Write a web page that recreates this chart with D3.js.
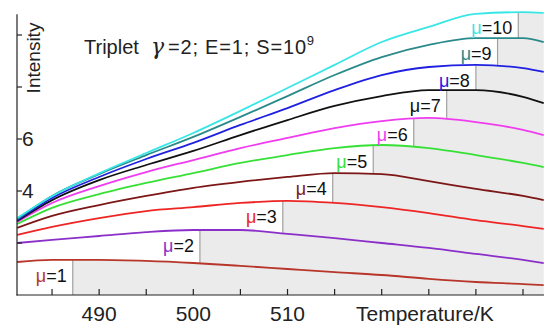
<!DOCTYPE html>
<html><head><meta charset="utf-8">
<script src="https://cdn.jsdelivr.net/npm/d3@7/dist/d3.min.js"></script>
<style>
html,body{margin:0;padding:0;background:#fff;}
svg{display:block;font-family:"Liberation Sans",Arial,sans-serif;}
</style></head>
<body><svg id="chart" width="544" height="326"></svg>
<script>
// ---- data ----
const temps = [481.3, 485, 490, 495, 500, 505, 510, 515, 520, 525, 530, 535, 537.2];
const mu1  = [1.27, 1.35, 1.35, 1.31, 1.23, 1.12, 1.00, 0.88, 0.77, 0.62, 0.50, 0.42, 0.38];
const mu2  = [2.00, 2.12, 2.27, 2.42, 2.50, 2.50, 2.35, 2.19, 2.00, 1.81, 1.58, 1.35, 1.23];
const mu3  = [2.31, 2.62, 2.96, 3.23, 3.38, 3.54, 3.62, 3.54, 3.38, 3.15, 2.88, 2.65, 2.54];
const mu4  = [2.58, 3.04, 3.46, 3.81, 4.12, 4.35, 4.54, 4.69, 4.65, 4.38, 4.08, 3.81, 3.65];
const mu5  = [2.73, 3.35, 3.88, 4.31, 4.69, 5.08, 5.38, 5.65, 5.77, 5.65, 5.38, 5.08, 4.92];
const mu6  = [2.81, 3.54, 4.19, 4.73, 5.19, 5.65, 6.04, 6.42, 6.69, 6.81, 6.65, 6.35, 6.15];
const mu7  = [2.85, 3.65, 4.42, 5.00, 5.54, 6.15, 6.73, 7.27, 7.65, 7.88, 7.88, 7.62, 7.38];
const mu8  = [2.88, 3.73, 4.54, 5.23, 5.85, 6.54, 7.19, 7.88, 8.46, 8.77, 8.85, 8.73, 8.58];
const mu9  = [2.92, 3.81, 4.65, 5.38, 6.08, 6.85, 7.65, 8.46, 9.15, 9.62, 9.88, 9.88, 9.73];
const mu10 = [2.96, 3.80, 4.68, 5.46, 6.23, 7.08, 7.96, 8.85, 9.73, 10.31, 10.81, 10.88, 10.85];
const seriesNames = ["1","2","3","4","5","6","7","8","9","10"];
const seriesColors = ["#b8352a","#8b2fc9","#ee2525","#7d1616","#36e036","#f03cf0","#111111","#2020e0","#2a8a8a","#38e6e6"];
const labelTemps = [487.2, 500.7, 509.5, 514.8, 519.1, 523.4, 526.9, 530.0, 532.3, 534.5];
const xTicks = [485, 490, 495, 500, 505, 510, 515, 520, 525, 530, 535];
const xTickLabels = ["490", "500", "510"];
const yTicks = [2, 4, 6, 8, 10];
const yTickLabels = ["4", "6"];
const xTitle = "Temperature/K";
const yTitle = "Intensity";

const series = [mu1, mu2, mu3, mu4, mu5, mu6, mu7, mu8, mu9, mu10];

// ---- layout ----
const svg = d3.select("#chart");
const W = 544, H = 326;
const x = d3.scaleLinear().domain([481.28, 537.23]).range([17, 544]);
const y = d3.scaleLinear().domain([0, 10.8]).range([295, 14.2]);

svg.append("rect").attr("width", W).attr("height", H).attr("fill", "#fff");

const defs = svg.append("defs");
const zero = temps.map(() => 0);
const pts = (arr) => temps.map((t, i) => [t, arr[i]]);
const line = d3.line().x(d => x(d[0])).y(d => y(d[1])).curve(d3.curveMonotoneX);
const band = (top, bot) => d3.area()
  .x((d, i) => x(temps[i]))
  .y1((d, i) => y(top[i]))
  .y0((d, i) => y(bot[i]))
  .curve(d3.curveMonotoneX)(temps);

// grey stepped bands
series.forEach((s, k) => {
  const below = k === 0 ? zero : series[k - 1];
  const xl = x(labelTemps[k]);
  defs.append("clipPath").attr("id", "rc" + k)
    .append("rect").attr("x", xl).attr("y", 0).attr("width", W - xl).attr("height", H);
  defs.append("clipPath").attr("id", "bc" + k)
    .append("path").attr("d", band(s, below));
  svg.append("path").attr("d", band(s, below))
    .attr("fill", "#ebebeb").attr("clip-path", "url(#rc" + k + ")");
});
// vertical grey separators
series.forEach((s, k) => {
  const xl = x(labelTemps[k]);
  svg.append("line").attr("x1", xl).attr("x2", xl).attr("y1", 0).attr("y2", 300)
    .attr("stroke", "#a0a0a0").attr("stroke-width", 1.2)
    .attr("clip-path", "url(#bc" + k + ")");
});

// curves
series.forEach((s, k) => {
  svg.append("path").attr("d", line(pts(s)))
    .attr("fill", "none").attr("stroke", seriesColors[k]).attr("stroke-width", 1.8);
});

// labels
series.forEach((s, k) => {
  const interp = d3.scaleLinear().domain(temps).range(s);
  const xl = x(labelTemps[k]);
  const t = svg.append("text")
    .attr("x", xl - 6).attr("y", y(interp(labelTemps[k])) + 22)
    .attr("text-anchor", "end").attr("font-size", 18);
  t.append("tspan").attr("fill", seriesColors[k]).text("μ");
  t.append("tspan").attr("fill", "#111").text("=" + seriesNames[k]);
});

// axes
const ax = svg.append("g").attr("stroke", "#222").attr("stroke-width", 1.2);
ax.append("line").attr("x1", 17).attr("x2", 17).attr("y1", y(10.8)).attr("y2", 295.5);
ax.append("line").attr("x1", 16.5).attr("x2", 544).attr("y1", 295).attr("y2", 295);
xTicks.forEach(v => {
  ax.append("line").attr("x1", x(v)).attr("x2", x(v)).attr("y1", 295).attr("y2", 289);
});
yTicks.forEach(v => {
  ax.append("line").attr("x1", 17).attr("x2", 22).attr("y1", y(v)).attr("y2", y(v));
});
xTickLabels.forEach(l => {
  svg.append("text").attr("x", x(+l)).attr("y", 321).attr("text-anchor", "middle")
    .attr("font-size", 21).attr("fill", "#222").text(l);
});
yTickLabels.forEach(l => {
  svg.append("text").attr("x", 22).attr("y", y(+l) + 7).attr("text-anchor", "start")
    .attr("font-size", 21).attr("fill", "#222").text(l);
});
svg.append("text").attr("x", 356).attr("y", 321).attr("font-size", 21).attr("fill", "#222").text(xTitle);
svg.append("text").attr("transform", "translate(40,58) rotate(-90)").attr("text-anchor", "middle")
  .attr("font-size", 19).attr("fill", "#222").text(yTitle);

// title annotation
const tt = svg.append("text").attr("y", 54).attr("font-size", 20).attr("fill", "#222");
tt.append("tspan").attr("x", 84).text("Triplet");
tt.append("tspan").attr("x", 151).attr("font-family", "DejaVu Serif").attr("font-style", "italic")
  .attr("font-size", 22).text("γ");
tt.append("tspan").attr("x", 168).attr("letter-spacing", 0.8).text("=2; E=1; S=10");
tt.append("tspan").attr("dy", -9).attr("font-size", 13).text("9");
</script></body></html>
